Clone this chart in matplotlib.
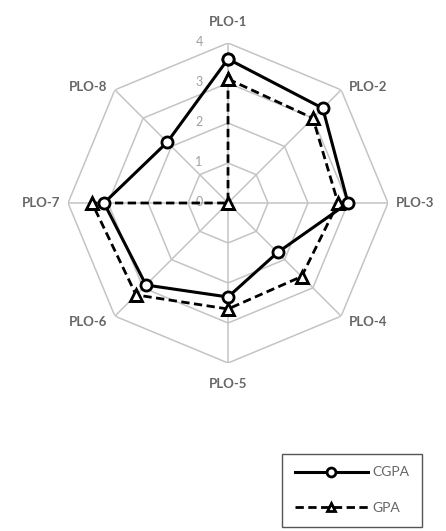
import numpy as np
import matplotlib.pyplot as plt

plt.rcParams['font.family'] = ['Lato', 'DejaVu Sans']

# data
categories = ['PLO-1', 'PLO-2', 'PLO-3', 'PLO-4', 'PLO-5', 'PLO-6', 'PLO-7', 'PLO-8']
cgpa = [3.6, 3.35, 3.0, 1.75, 2.35, 2.9, 3.1, 2.15]
gpa = [3.1, 3.0, 2.75, 2.6, 2.65, 3.25, 3.4, 0.0]
rings = [0, 1, 2, 3, 4]

n = len(categories)
theta = np.linspace(0, 2 * np.pi, n, endpoint=False)
theta_c = np.append(theta, theta[0])

fig = plt.figure(figsize=(4.46, 5.31), dpi=100)
ax = fig.add_axes([0.1525, 0.3164, 0.7175, 0.6026], projection='polar')
ax.set_theta_offset(np.pi / 2)
ax.set_theta_direction(-1)
ax.set_ylim(0, 4)
ax.grid(False)
ax.spines['polar'].set_visible(False)
ax.set_yticks([])
ax.set_xticks([])

grid_col = '#c4c4c4'
# octagon grid
for r in rings[1:]:
    ax.plot(theta_c, [r] * (n + 1), color=grid_col, lw=1.1, zorder=1)
for t in theta:
    ax.plot([t, t], [0, 4], color=grid_col, lw=1.1, zorder=1)

# radial value labels, left of the first axis
for r in rings:
    ax.annotate(str(r), xy=(0, r), xytext=(-29, 1), textcoords='offset pixels',
                ha='center', va='center', fontsize=9, color='#a0a0a0')

# category labels, Excel style
for t, lab in zip(theta, categories):
    s, c = np.sin(t), np.cos(t)
    if abs(s) < 0.1:
        off, ha = (0, 21 * np.sign(c)), 'center'
    else:
        dy = 0 if abs(c) < 0.1 else (3 if c > 0 else -6)
        off, ha = (8 * np.sign(s), dy), ('left' if s > 0 else 'right')
    ax.annotate(lab, xy=(t, 4), xytext=off, textcoords='offset pixels',
                ha=ha, va='center', fontsize=9.5, color='#666666',
                fontweight='bold', annotation_clip=False)

ax.plot(theta_c, cgpa + cgpa[:1], '-', color='black', lw=2.2,
        marker='o', ms=8, mfc='white', mec='black', mew=2, zorder=4, label='CGPA')
ax.plot(theta_c, gpa + gpa[:1], '--', color='black', lw=2.0, dashes=(3, 1.6),
        marker='^', ms=8, mfc='white', mec='black', mew=2, zorder=3, label='GPA')

leg = fig.legend(loc='upper left', bbox_to_anchor=(282 / 446, 1 - 454 / 531),
                 borderaxespad=0, fontsize=10, handlelength=5.3, handletextpad=0.3,
                 fancybox=False, edgecolor='#555555', labelcolor='#666666',
                 borderpad=0.9, labelspacing=1.7, markerscale=0.8, framealpha=1)
leg.get_frame().set_linewidth(1.0)

fig.savefig('out.png', dpi=100)
